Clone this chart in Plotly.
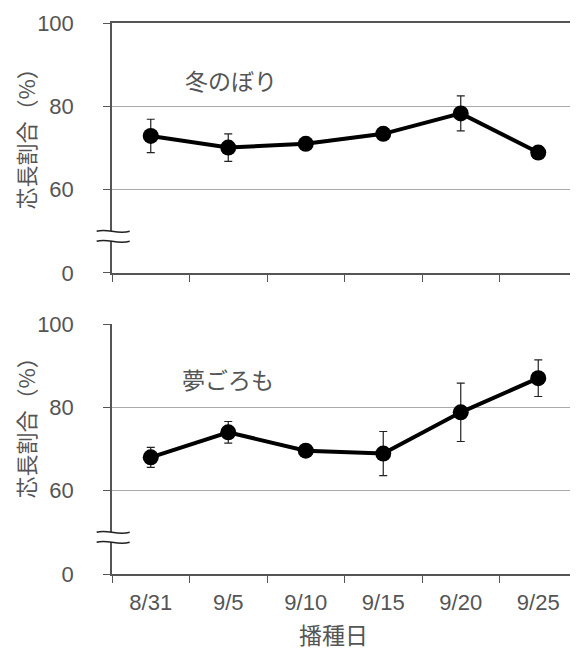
import plotly.graph_objects as go

dates = ["8/31", "9/5", "9/10", "9/15", "9/20", "9/25"]
fuyu_vals = [72.9, 70.1, 71.0, 73.4, 78.3, 68.9]
fuyu_err = [4.0, 3.3, 0.8, 0.8, 4.2, 0.8]
yume_vals = [68.0, 74.0, 69.6, 68.9, 78.8, 87.0]
yume_err = [2.4, 2.6, 0.8, 5.3, 7.0, 4.4]
ytick_vals = [40, 60, 80, 100]
ytick_text = ["0", "60", "80", "100"]
variety_labels = ["冬のぼり", "夢ごろも"]
ylabel = "芯長割合（%）"
xlabel = "播種日"

fig = go.Figure()
for i, (vals, err) in enumerate([(fuyu_vals, fuyu_err), (yume_vals, yume_err)]):
    fig.add_trace(go.Scatter(
        x=dates, y=vals, mode="lines+markers",
        line=dict(color="black", width=4),
        marker=dict(color="black", size=16),
        error_y=dict(type="data", array=err, visible=True, color="#222", thickness=1.2, width=4),
        xaxis="x" if i == 0 else "x2", yaxis="y" if i == 0 else "y2",
        showlegend=False,
    ))

tickfont = dict(family="Liberation Sans, Arial", size=22, color="#555")
common_y = dict(range=[40, 100], tickvals=ytick_vals, ticktext=ytick_text,
                showgrid=True, gridcolor="#aaaaaa", gridwidth=1,
                showline=True, linecolor="#555", linewidth=1.5,
                ticks="outside", ticklen=7, tickcolor="#555",
                tickfont=tickfont, ticklabelstandoff=25, zeroline=False,
                automargin=False)
common_x = dict(type="category", tickson="boundaries", ticks="outside", ticklen=7,
                tickcolor="#555", showline=True, linecolor="#555", linewidth=1.5,
                showgrid=False, range=[-0.5, 5.5], tickfont=tickfont, automargin=False)

# page body has an 8px default margin, so the figure is sized/offset to compensate
fig.update_layout(
    width=570, height=642,
    margin=dict(l=104, r=1, t=15, b=76),
    plot_bgcolor="white", paper_bgcolor="white",
    xaxis=dict(**common_x, anchor="y", showticklabels=False, mirror=True),
    yaxis=dict(**common_y, domain=[0.5463, 1.0], anchor="x", mirror=True),
    xaxis2=dict(**common_x, anchor="y2", showticklabels=True, ticklabelstandoff=8),
    yaxis2=dict(**common_y, domain=[0.0, 0.4537], anchor="x2"),
)

cjk = "Noto Sans CJK JP"
fig.add_annotation(text=variety_labels[0], xref="x", yref="y", x=1.03, y=86.3,
                   xanchor="center", yanchor="middle",
                   showarrow=False, font=dict(family=cjk, size=23, color="#555"))
fig.add_annotation(text=variety_labels[1], xref="x2", yref="y2", x=1.0, y=86.7,
                   xanchor="center", yanchor="middle",
                   showarrow=False, font=dict(family=cjk, size=23, color="#555"))
for yc in (0.7985, 0.274):
    fig.add_annotation(text=ylabel, xref="paper", yref="paper", x=-0.186, y=yc,
                       xanchor="center", yanchor="middle",
                       textangle=-90, showarrow=False,
                       font=dict(family=cjk, size=22, color="#555"))
fig.add_annotation(text=xlabel, xref="paper", yref="paper", x=0.477, y=-0.109,
                   xanchor="center", yanchor="middle",
                   showarrow=False, font=dict(family=cjk, size=23, color="#555"))

# axis break marks
for yref in ["y", "y2"]:
    x0, x1 = -0.033, 0.038
    ya, yb = 47.6, 50.0
    fig.add_shape(type="path", xref="paper", yref=yref,
                  path=f"M {x0},{ya} C -0.01,{ya+0.9} 0.01,{ya-0.9} {x1},{ya} L {x1},{yb} C 0.01,{yb-0.9} -0.01,{yb+0.9} {x0},{yb} Z",
                  fillcolor="white", line=dict(width=0), layer="above")
    for yy in (ya, yb):
        fig.add_shape(type="path", xref="paper", yref=yref,
                      path=f"M {x0},{yy} C -0.01,{yy+0.9} 0.01,{yy-0.9} {x1},{yy}",
                      line=dict(color="#222", width=1.5), layer="above")

fig.write_html("out.html")
